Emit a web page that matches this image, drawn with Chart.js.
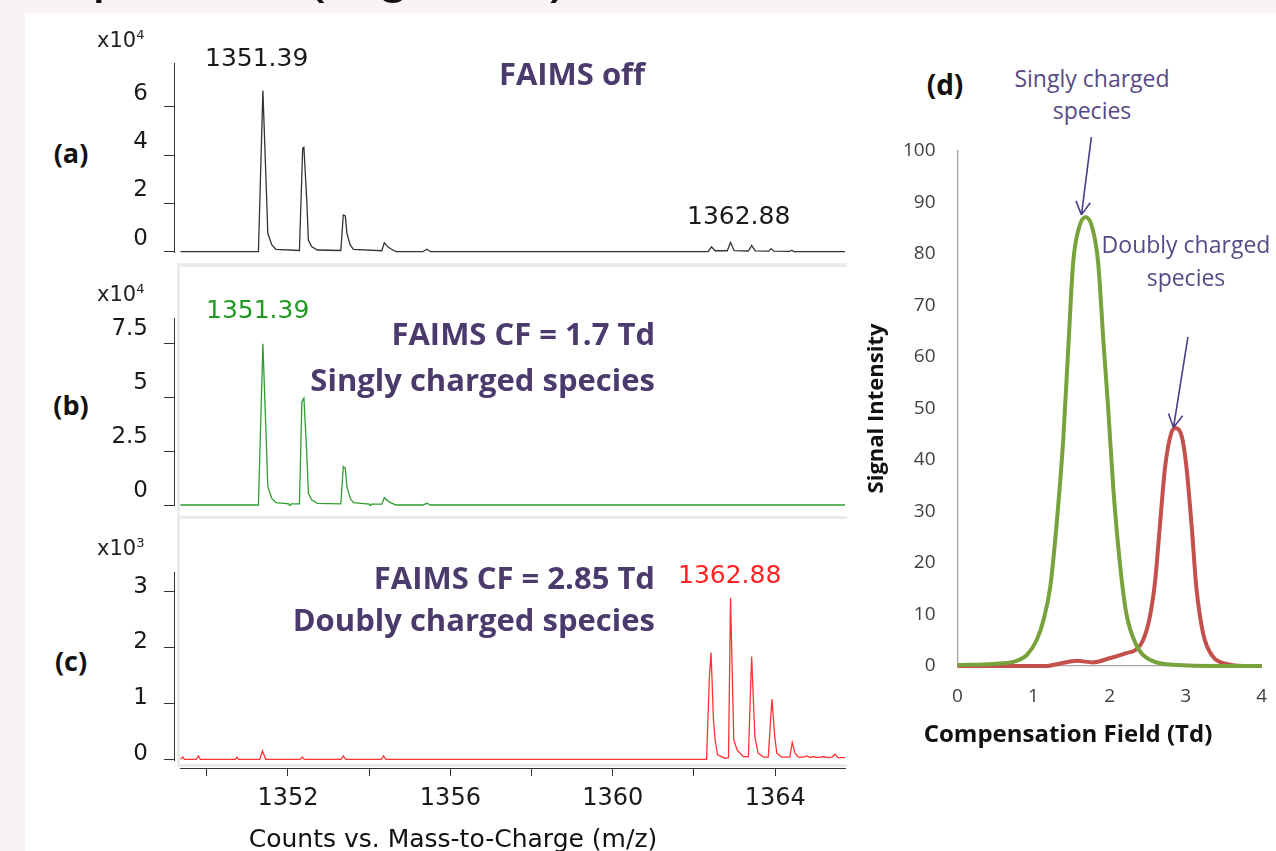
<!DOCTYPE html>
<html>
<head>
<meta charset="utf-8">
<script src="https://cdn.jsdelivr.net/npm/chart.js@4.4.0/dist/chart.umd.min.js"></script>
<style>
    html, body { margin: 0; padding: 0; }
    body { width: 1276px; height: 851px; overflow: hidden; position: relative; background: #f8f3f6; }
    #sheet { position: absolute; left: 25px; top: 13px; right: 0; bottom: 0; background: #fff; }
    canvas { position: absolute; }
    .frame { position: absolute; border-color: #ebebeb; border-style: solid; border-width: 0; box-sizing: border-box; }
    .t { position: absolute; white-space: nowrap; line-height: 1; }
    .c { transform: translate(-50%, -50%); }
    .r { transform: translate(-100%, -50%); }
    .l { transform: translate(0, -50%); }
    .num { font-family: 'DejaVu Sans'; font-size: 25px; }
    .faims { font-family: 'Open Sans'; font-weight: 700; font-size: 31px; color: #4a3b6c; }
    .tag { font-family: 'Open Sans'; font-weight: 700; font-size: 27px; color: #111; }
    .mult { font-family: 'DejaVu Sans'; font-size: 21px; color: #222; }
    .mult sup { font-size: 13px; vertical-align: 8px; line-height: 0; }
    .note { font-family: 'Open Sans'; font-size: 23px; color: #574a86; }
    .title { font-family: 'Liberation Sans'; font-size: 59px; line-height: 59px; color: #111; top: -58px; }
</style>
</head>
<body>
<div id="sheet"></div>
<div class="t title" style="left:53px;">Spectra</div>
<div class="t title" style="left:305px;letter-spacing:1px;">(Figure 4)</div>

<!-- panel frames -->
<div class="frame" style="left:177px;top:263px;width:670px;height:255px;border-top-width:4px;border-left-width:3px;"></div>
<div class="frame" style="left:177px;top:516px;width:670px;height:251px;border-top-width:3px;border-left-width:3px;border-bottom-width:3px;"></div>

<canvas id="panelA" width="760" height="213" style="left:90px;top:40px;"></canvas>
<canvas id="panelB" width="760" height="216" style="left:90px;top:290px;"></canvas>
<canvas id="panelC" width="760" height="216" style="left:90px;top:545px;"></canvas>
<canvas id="mzAxis" width="670" height="140" style="left:180px;top:700px;"></canvas>
<canvas id="panelD" width="416" height="640" style="left:860px;top:130px;"></canvas>

<!-- spectra annotations -->
<div class="t l mult" style="left:97px;top:40px;">x10<sup>4</sup></div>
<div class="t l mult" style="left:97px;top:294px;">x10<sup>4</sup></div>
<div class="t l mult" style="left:97px;top:548px;">x10<sup>3</sup></div>
<div class="t c tag" style="left:71px;top:152px;">(a)</div>
<div class="t c tag" style="left:71px;top:404px;">(b)</div>
<div class="t c tag" style="left:71px;top:660px;">(c)</div>
<div class="t l num" style="left:205px;top:57px;color:#1a1a1a;">1351.39</div>
<div class="t l num" style="left:687px;top:215px;color:#1a1a1a;">1362.88</div>
<div class="t l num" style="left:206px;top:309px;color:#229922;">1351.39</div>
<div class="t l num" style="left:678px;top:574px;color:#ff2222;">1362.88</div>
<div class="t c faims" style="left:572px;top:73px;">FAIMS off</div>
<div class="t r faims" style="left:655px;top:333px;">FAIMS CF = 1.7 Td</div>
<div class="t r faims" style="left:655px;top:379px;">Singly charged species</div>
<div class="t r faims" style="left:655px;top:577px;">FAIMS CF = 2.85 Td</div>
<div class="t r faims" style="left:655px;top:619px;">Doubly charged species</div>
<div class="t c" style="left:453px;top:838px;font-family:'DejaVu Sans';font-size:25px;color:#111;">Counts vs. Mass-to-Charge (m/z)</div>

<!-- CF scan annotations -->
<div class="t c tag" style="left:945px;top:84px;font-size:28px;">(d)</div>
<div class="t c note" style="left:1092px;top:78px;">Singly charged</div>
<div class="t c note" style="left:1092px;top:110px;">species</div>
<div class="t c note" style="left:1186px;top:244px;">Doubly charged</div>
<div class="t c note" style="left:1186px;top:277px;">species</div>
<div class="t c" style="left:1068px;top:733px;font-family:'Open Sans';font-weight:700;font-size:24px;color:#111;">Compensation Field (Td)</div>

<script>
// Spectrum (a): FAIMS off, counts x10^4
const mzA = [1349.35, 1351.27, 1351.38, 1351.48, 1351.50, 1351.60, 1351.70,
    1352.28, 1352.36, 1352.39, 1352.46, 1352.50, 1352.58, 1352.72,
    1353.30, 1353.36, 1353.41, 1353.45, 1353.53, 1353.61,
    1354.31, 1354.37, 1354.47, 1354.55, 1354.66, 1355.32, 1355.42, 1355.51,
    1362.35, 1362.43, 1362.52, 1362.82, 1362.90, 1362.99, 1363.34, 1363.42, 1363.51,
    1363.84, 1363.90, 1363.97, 1364.36, 1364.41, 1364.46, 1365.72];
const countsA = [0, 0, 6.67, 1.86, 0.76, 0.28, 0.10,
    0.05, 4.28, 4.32, 2.14, 0.48, 0.21, 0.07,
    0.05, 1.52, 1.48, 0.76, 0.28, 0.10,
    0.04, 0.37, 0.18, 0.10, 0, 0, 0.10, 0,
    0, 0.20, 0.04, 0.04, 0.38, 0.04, 0.03, 0.26, 0.03,
    0.02, 0.13, 0.02, 0.01, 0.06, 0, 0];

// Spectrum (b): CF = 1.7 Td, counts x10^4
const mzB = [1349.35, 1351.27, 1351.38, 1351.48, 1351.50, 1351.60, 1351.70,
    1352.02, 1352.05, 1352.08, 1352.28, 1352.34, 1352.39, 1352.46, 1352.50, 1352.58, 1352.72,
    1353.30, 1353.36, 1353.41, 1353.45, 1353.53, 1353.61,
    1354.00, 1354.03, 1354.06, 1354.31, 1354.37, 1354.47, 1354.55, 1354.66,
    1355.32, 1355.42, 1355.51, 1365.72];
const countsB = [0, 0, 7.47, 2.05, 0.85, 0.31, 0.11,
    0.05, -0.06, 0.05, 0.05, 4.79, 4.95, 2.45, 0.55, 0.24, 0.08,
    0.05, 1.78, 1.70, 0.85, 0.31, 0.11,
    0.04, -0.06, 0.04, 0.04, 0.34, 0.17, 0.09, 0,
    0, 0.08, 0, 0];

// Spectrum (c): CF = 2.85 Td, counts x10^3
const mzC = [1349.35, 1349.41, 1349.45, 1349.74, 1349.79, 1349.84, 1350.70, 1350.74, 1350.78,
    1351.30, 1351.37, 1351.45, 1352.30, 1352.35, 1352.40, 1353.31, 1353.36, 1353.42,
    1354.30, 1354.35, 1354.41,
    1362.31, 1362.38, 1362.42, 1362.48, 1362.52, 1362.58, 1362.76,
    1362.85, 1362.90, 1362.98, 1363.06, 1363.21,
    1363.34, 1363.42, 1363.50, 1363.58, 1363.71,
    1363.83, 1363.92, 1363.99, 1364.04, 1364.16,
    1364.36, 1364.42, 1364.49, 1364.57,
    1364.70, 1364.78, 1364.86, 1364.94, 1365.05, 1365.19, 1365.30, 1365.40, 1365.47, 1365.55, 1365.72];
const countsC = [0, 0.04, 0, 0, 0.06, 0, 0, 0.04, 0,
    0, 0.15, 0, 0, 0.04, 0, 0, 0.06, 0,
    0, 0.06, 0,
    0, 1.48, 1.91, 0.70, 0.35, 0.08, 0.02,
    0.03, 2.89, 0.35, 0.17, 0.05,
    0.05, 1.84, 0.40, 0.11, 0.04,
    0.04, 1.08, 0.40, 0.11, 0.04,
    0.04, 0.30, 0.11, 0.04,
    0.04, 0.06, 0.03, 0.05, 0.03, 0.05, 0.03, 0.04, 0.09, 0.03, 0.03];

const ticksA = [0, 2, 4, 6];
const ticksB = [0, 2.5, 5, 7.5];
const ticksC = [0, 1, 2, 3];
const mzTicks = [1350, 1352, 1354, 1356, 1358, 1360, 1362, 1364];
const mzLabelled = [1352, 1356, 1360, 1364];

// Panel (d): signal intensity vs compensation field
const cfSingly = [0, 0.47, 0.78, 0.91, 1.04, 1.13, 1.22, 1.30, 1.39, 1.46, 1.52, 1.59, 1.685,
    1.78, 1.85, 1.92, 1.98, 2.05, 2.14, 2.22, 2.35, 2.53, 2.88, 3.67, 4.0];
const intSingly = [0.2, 0.4, 1.0, 2.1, 5.0, 8.9, 15.4, 27, 43.9, 62.7, 78.2, 84.7, 87.2,
    84.7, 78.2, 62.7, 50.3, 34.2, 19.3, 10.2, 4.1, 1.2, 0.2, 0, 0];
const cfDoubly = [0, 1.17, 1.35, 1.57, 1.78, 2.0, 2.22, 2.35, 2.44, 2.53, 2.60, 2.66, 2.73,
    2.81, 2.87, 2.95, 3.01, 3.08, 3.14, 3.23, 3.36, 3.54, 3.76, 4.0];
const intDoubly = [0, 0, 0.5, 1.0, 0.7, 1.5, 2.5, 3.2, 5.0, 9.6, 16.7, 27, 38.7,
    45.2, 46.2, 44.5, 38.7, 27, 15.4, 6.3, 1.8, 0.4, 0, 0];
const cfTicks = [0, 1, 2, 3, 4];
const intTicks = [0, 10, 20, 30, 40, 50, 60, 70, 80, 90, 100];

function points(xs, ys) {
    return xs.map((x, i) => ({ x: x, y: ys[i] }));
}

function fixedTicks(values) {
    return scale => { scale.ticks = values.map(v => ({ value: v })); };
}

const quiet = {
    responsive: false,
    animation: false,
    events: [],
    plugins: { legend: { display: false }, tooltip: { enabled: false } }
};

function createSpectrum(canvasId, xs, ys, color, yTicks, yMin, yMax, padTop, labelOffset) {
    const ctx = document.getElementById(canvasId).getContext('2d');
    return new Chart(ctx, {
        type: 'line',
        data: {
            datasets: [{
                data: points(xs, ys),
                borderColor: color,
                borderWidth: 1.3,
                pointRadius: 0,
                tension: 0
            }]
        },
        options: {
            ...quiet,
            layout: { padding: { top: padTop, right: 5, bottom: 0, left: 0 } },
            scales: {
                x: { type: 'linear', display: false, min: 1349.19, max: 1365.72 },
                y: {
                    min: yMin,
                    max: yMax,
                    afterBuildTicks: fixedTicks(yTicks),
                    afterFit: scale => { scale.width = 84; scale.paddingTop = 0; scale.paddingBottom = 0; },
                    border: { color: '#333', width: 1 },
                    grid: { drawOnChartArea: false, tickLength: 10, color: '#333' },
                    ticks: {
                        color: '#1a1a1a',
                        padding: 16,
                        labelOffset: labelOffset,
                        font: { family: 'DejaVu Sans', size: 23 },
                        callback: v => String(v)
                    }
                }
            }
        }
    });
}

createSpectrum('panelA', mzA, countsA, '#333', ticksA, -0.054, 7.81, 23, -13);
createSpectrum('panelB', mzB, countsB, '#2e9e2e', ticksB, -0.046, 8.67, 28, -14);
createSpectrum('panelC', mzC, countsC, '#ff3333', ticksC, -0.03, 3.35, 27, -5);

// shared m/z axis under the three spectra
new Chart(document.getElementById('mzAxis').getContext('2d'), {
    type: 'line',
    data: { datasets: [] },
    options: {
        ...quiet,
        layout: { padding: { top: 0, right: 5, bottom: 0, left: 0 } },
        scales: {
            x: {
                type: 'linear',
                min: 1349.34,
                max: 1365.72,
                afterBuildTicks: fixedTicks(mzTicks),
                afterFit: scale => { scale.height = 72; scale.paddingLeft = 0; scale.paddingRight = 0; },
                border: { color: '#333', width: 1 },
                grid: { drawOnChartArea: false, tickLength: 8, color: '#333' },
                ticks: {
                    color: '#1a1a1a',
                    padding: 8,
                    maxRotation: 0,
                    autoSkip: false,
                    font: { family: 'DejaVu Sans', size: 24 },
                    callback: v => mzLabelled.includes(v) ? String(v) : ''
                }
            },
            y: { display: false, min: 0, max: 1 }
        }
    }
});

// arrows pointing at the two CF maxima, in data units
const arrows = [
    { from: [1.76, 102.7], to: [1.63, 87.6] },
    { from: [3.03, 63.9], to: [2.84, 46.3] }
];

const arrowPlugin = {
    id: 'arrows',
    afterDatasetsDraw(chart) {
        const { ctx, scales: { x, y } } = chart;
        ctx.save();
        ctx.strokeStyle = '#4b3f86';
        ctx.lineWidth = 1.6;
        arrows.forEach(a => {
            const x0 = x.getPixelForValue(a.from[0]), y0 = y.getPixelForValue(a.from[1]);
            const x1 = x.getPixelForValue(a.to[0]), y1 = y.getPixelForValue(a.to[1]);
            const ang = Math.atan2(y1 - y0, x1 - x0);
            ctx.beginPath();
            ctx.moveTo(x0, y0);
            ctx.lineTo(x1, y1);
            [0.5, -0.5].forEach(d => {
                ctx.moveTo(x1, y1);
                ctx.lineTo(x1 - 15 * Math.cos(ang + d), y1 - 15 * Math.sin(ang + d));
            });
            ctx.stroke();
        });
        ctx.restore();
    }
};

const cfTickFont = { family: 'Open Sans', size: 19 };

new Chart(document.getElementById('panelD').getContext('2d'), {
    type: 'line',
    data: {
        datasets: [
            {
                data: points(cfSingly, intSingly),
                borderColor: '#77a23c',
                borderWidth: 4,
                pointRadius: 0,
                cubicInterpolationMode: 'monotone',
                clip: 6
            },
            {
                data: points(cfDoubly, intDoubly),
                borderColor: '#c4504c',
                borderWidth: 4,
                pointRadius: 0,
                cubicInterpolationMode: 'monotone',
                clip: 6
            }
        ]
    },
    options: {
        ...quiet,
        layout: { padding: { top: 21, right: 14.3, bottom: 0, left: 0 } },
        scales: {
            x: {
                type: 'linear',
                min: 0,
                max: 4,
                afterBuildTicks: fixedTicks(cfTicks),
                afterFit: scale => { scale.height = 104; scale.paddingLeft = 0; scale.paddingRight = 0; },
                border: { color: '#a6a6a6', width: 1.3 },
                grid: { display: false, drawTicks: false },
                ticks: { color: '#404040', padding: 19, maxRotation: 0, font: cfTickFont }
            },
            y: {
                min: 0,
                max: 100,
                afterBuildTicks: fixedTicks(intTicks),
                afterFit: scale => { scale.width = 97.5; scale.paddingTop = 0; scale.paddingBottom = 0; },
                border: { color: '#a6a6a6', width: 1.3 },
                grid: { display: false, drawTicks: false },
                ticks: { color: '#404040', padding: 22, font: cfTickFont },
                title: {
                    display: true,
                    text: 'Signal Intensity',
                    color: '#111',
                    padding: { top: 4, bottom: 0 },
                    font: { family: 'Open Sans', weight: 'bold', size: 22 }
                }
            }
        }
    },
    plugins: [arrowPlugin]
});
</script>
</body>
</html>
